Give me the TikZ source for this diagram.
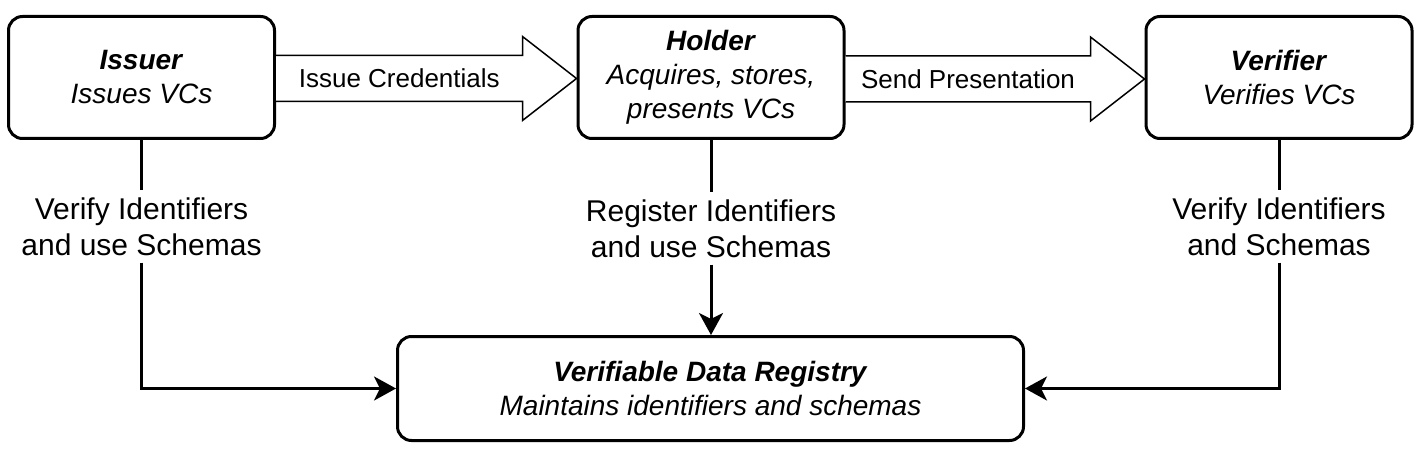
\documentclass[tikz,border=0pt]{standalone}
\usepackage{fontspec}
\setmainfont{Liberation Sans}
\usetikzlibrary{arrows.meta,calc}
\begin{document}
\begin{tikzpicture}[x=1pt,y=-1pt,
  box/.style={draw, line width=3pt, rounded corners=14pt, minimum width=266pt, minimum height=122pt, align=center, font=\fontsize{28}{34}\selectfont, inner sep=0pt},
  lab/.style={align=center, font=\fontsize{30}{36}\selectfont, inner xsep=2pt, inner ysep=7pt},
  conn/.style={line width=3pt},
  arr/.style={conn, -{Stealth[length=22pt,width=24pt,inset=6pt]}},
  blk/.style={draw, line width=1.5pt, fill=white, line join=miter},
  blab/.style={font=\fontsize{26}{31}\selectfont, inner sep=0pt}
]
\useasboundingbox (0,0) rectangle (1423,457);

\node[box] (issuer) at (141.5,77.5) {\textbf{\textit{Issuer}}\\\textit{Issues VCs}};
\node[box] (holder) at (711,77.5) {\textbf{\textit{Holder}}\\\textit{Acquires, stores,}\\\textit{presents VCs}};
\node[box] (verifier) at (1279,77.5) {\textbf{\textit{Verifier}}\\\textit{Verifies VCs}};
\node[box, minimum width=626pt, minimum height=104pt] (registry) at (710.5,388.5) {\textbf{\textit{Verifiable Data Registry}}\\\textit{Maintains identifiers and schemas}};

% block arrows
\coordinate (a1s) at ($(issuer.east)+(0,1)$);
\coordinate (a1e) at ($(holder.west)+(0,1)$);
\draw[blk] ($(a1s)+(0,-23)$) -- ($(a1e)+(-54,-23)$) -- ($(a1e)+(-54,-42)$) -- (a1e) -- ($(a1e)+(-54,42)$) -- ($(a1e)+(-54,23)$) -- ($(a1s)+(0,23)$);
\node[blab] (t1) at ($(a1s)!0.5!($(a1e)+(-54,0)$)$) {Issue Credentials};

\coordinate (a2s) at ($(holder.east)+(0,1.5)$);
\coordinate (a2e) at ($(verifier.west)+(0,1.5)$);
\draw[blk] ($(a2s)+(0,-23)$) -- ($(a2e)+(-54,-23)$) -- ($(a2e)+(-54,-42)$) -- (a2e) -- ($(a2e)+(-54,42)$) -- ($(a2e)+(-54,23)$) -- ($(a2s)+(0,23)$);
\node[blab] (t2) at ($(a2s)!0.5!($(a2e)+(-54,0)$)$) {Send Presentation};

% vertical connectors
\node[lab] (l1) at (issuer.south |- 0,226.5) {Verify Identifiers\\and use Schemas};
\node[lab] (l2) at (holder.south |- 0,228.5) {Register Identifiers\\and use Schemas};
\node[lab] (l3) at (verifier.south |- 0,226.5) {Verify Identifiers\\and Schemas};

\draw[conn] (issuer.south) -- (l1.north);
\draw[arr] (l1.south) |- (registry.west);
\draw[conn] (holder.south) -- (l2.north);
\draw[arr] (l2.south) -- (l2.south |- registry.north);
\draw[conn] (verifier.south) -- (l3.north);
\draw[arr] (l3.south) |- (registry.east);
\end{tikzpicture}
\end{document}
